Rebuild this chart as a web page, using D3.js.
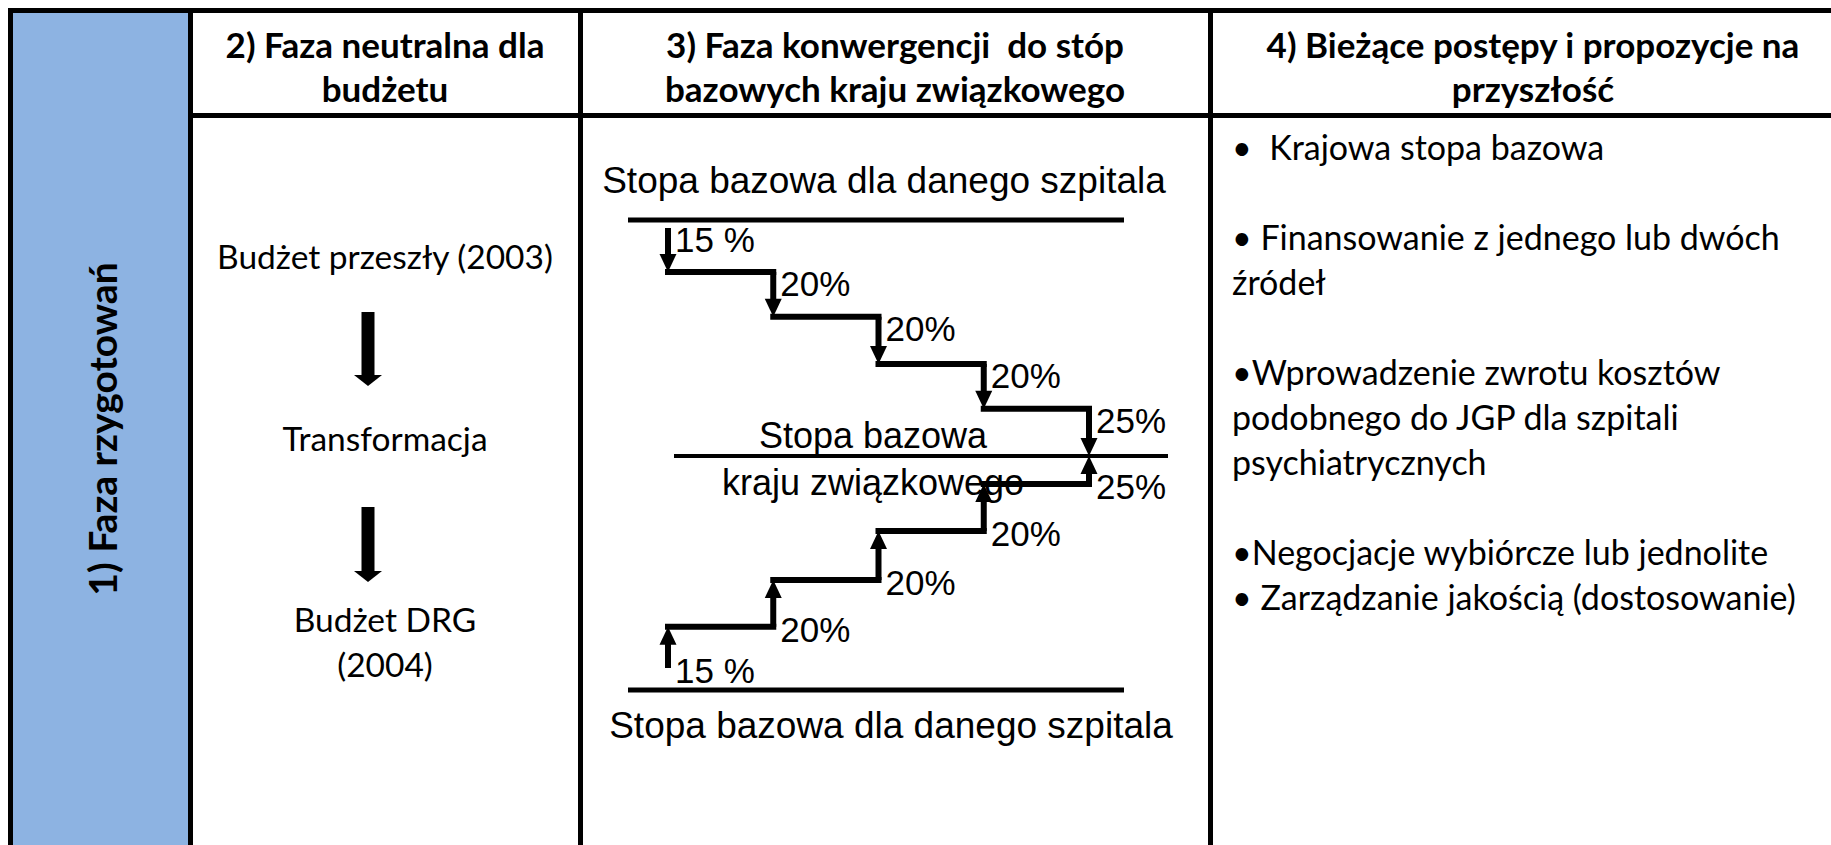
<!DOCTYPE html>
<html>
<head>
<meta charset="utf-8">
<script src="https://cdn.jsdelivr.net/npm/d3@7"></script>
<style>
  body { margin: 0; background: #fff; }
  svg { display: block; }
  text { white-space: pre; }
</style>
</head>
<body>
<svg width="1831" height="845"></svg>
<script>
// table content
var headers = [
    ["2) Faza neutralna dla", "budżetu"],
    ["3) Faza konwergencji  do stóp", "bazowych kraju związkowego"],
    ["4) Bieżące postępy i propozycje na", "przyszłość"]
];
var phaseOne = "1) Faza rzygotowań";
var budgetSteps = [["Budżet przeszły (2003)"], ["Transformacja"], ["Budżet DRG", "(2004)"]];
var hospitalRate = "Stopa bazowa dla danego szpitala";
var stateRate = ["Stopa bazowa", "kraju związkowego"];
var progressItems = [
    "•  Krajowa stopa bazowa",
    "",
    "• Finansowanie z jednego lub dwóch",
    "źródeł",
    "",
    "•Wprowadzenie zwrotu kosztów",
    "podobnego do JGP dla szpitali",
    "psychiatrycznych",
    "",
    "•Negocjacje wybiórcze lub jednolite",
    "• Zarządzanie jakością (dostosowanie)"
];

// convergence steps (share of the gap closed each year, and level reached as drawn)
var stepLabels = ["15 %", "20%", "20%", "20%", "25%"];
var downLevels = [22, 41, 61, 80, 100];
var upLevels = [27, 47, 68, 88, 100];

var svg = d3.select("svg");
var cols = [10, 190, 580, 1210, 1856];
var headerY = 115.5;
var sans = "Lato, 'Open Sans', sans-serif";
var arial = "'Liberation Sans', Arial, sans-serif";

// blue first column
svg.append("rect")
    .attr("x", cols[0]).attr("y", 10)
    .attr("width", cols[1] - cols[0]).attr("height", 845)
    .attr("fill", "#8db3e2");

var grid = svg.append("g").attr("stroke", "#000").attr("stroke-width", 5);
grid.append("line").attr("x1", 8).attr("x2", 1831).attr("y1", 10.5).attr("y2", 10.5);
grid.append("line").attr("x1", cols[1]).attr("x2", 1831).attr("y1", headerY).attr("y2", headerY);
grid.selectAll(".vline")
    .data(cols.slice(0, 4))
    .enter().append("line")
    .attr("class", "vline")
    .attr("x1", function(d) {return d + 0.5})
    .attr("x2", function(d) {return d + 0.5})
    .attr("y1", 8).attr("y2", 845);

// headers
headers.forEach(function(h, i) {
    var cx = i < 2 ? (cols[i + 1] + cols[i + 2]) / 2 : 1533;
    svg.append("text")
        .attr("x", cx).attr("y", 0)
        .attr("text-anchor", "middle")
        .style("font-family", sans).style("font-weight", 700).style("font-size", "35px")
        .selectAll("tspan")
        .data(h)
        .enter().append("tspan")
        .attr("x", cx)
        .attr("y", function(d, j) {return 58 + j * 44})
        .text(function(d) {return d});
});

// rotated phase 1 label
svg.append("text")
    .attr("transform", "translate(117,429) rotate(-90)")
    .attr("text-anchor", "middle")
    .style("font-family", sans).style("font-weight", 700).style("font-size", "39px")
    .text(phaseOne);

// column 2: budget transformation
var c2 = (cols[1] + cols[2]) / 2;
var budgetY = [269, 451, 632];
budgetSteps.forEach(function(lines, i) {
    svg.append("text")
        .attr("text-anchor", "middle")
        .style("font-family", sans).style("font-size", "33.5px")
        .selectAll("tspan")
        .data(lines)
        .enter().append("tspan")
        .attr("x", c2)
        .attr("y", function(d, j) {return budgetY[i] + j * 45})
        .text(function(d) {return d});
});

function arrow(g, x, y0, y1, shaft, headW, headL) {
    var dir = y1 > y0 ? 1 : -1;
    g.append("line")
        .attr("x1", x).attr("x2", x)
        .attr("y1", y0).attr("y2", y1 - dir * (headL - 1))
        .attr("stroke", "#000").attr("stroke-width", shaft);
    g.append("path")
        .attr("d", "M" + (x - headW / 2) + "," + (y1 - dir * headL) +
                   "L" + (x + headW / 2) + "," + (y1 - dir * headL) +
                   "L" + x + "," + y1 + "Z")
        .attr("fill", "#000");
}

var arrows2 = svg.append("g");
arrow(arrows2, 368, 312, 386, 13, 28, 11);
arrow(arrows2, 368, 507, 582, 13, 28, 11);

// column 3: convergence staircase
var sx = d3.scaleLinear().domain([0, 4]).range([668, 1089]);
var yTop = d3.scaleLinear().domain([0, 100]).range([220, 456]);
var yBot = d3.scaleLinear().domain([0, 100]).range([690, 456]);

var c3 = svg.append("g");
c3.append("text")
    .attr("x", 884).attr("y", 193)
    .attr("text-anchor", "middle")
    .style("font-family", arial).style("font-size", "37px")
    .text(hospitalRate);
c3.append("text")
    .attr("x", 891).attr("y", 738)
    .attr("text-anchor", "middle")
    .style("font-family", arial).style("font-size", "37px")
    .text(hospitalRate);
c3.selectAll(".state")
    .data(stateRate)
    .enter().append("text")
    .attr("class", "state")
    .attr("x", 873)
    .attr("y", function(d, i) {return 448 + i * 47})
    .attr("text-anchor", "middle")
    .style("font-family", arial).style("font-size", "36px")
    .text(function(d) {return d});

c3.append("line").attr("x1", 628).attr("x2", 1124).attr("y1", yTop(0)).attr("y2", yTop(0))
    .attr("stroke", "#000").attr("stroke-width", 5);
c3.append("line").attr("x1", 628).attr("x2", 1124).attr("y1", yBot(0)).attr("y2", yBot(0))
    .attr("stroke", "#000").attr("stroke-width", 5);
c3.append("line").attr("x1", 674).attr("x2", 1168).attr("y1", yTop(100)).attr("y2", yTop(100))
    .attr("stroke", "#000").attr("stroke-width", 4);

function stairs(levels, y, start, labelOffset) {
    levels.forEach(function(v, i) {
        var y0 = i == 0 ? start : y(levels[i - 1]);
        var y1 = y(v);
        if (i < levels.length - 1) {
            c3.append("line")
                .attr("x1", sx(i) - 3).attr("x2", sx(i + 1) + 3)
                .attr("y1", y1).attr("y2", y1)
                .attr("stroke", "#000").attr("stroke-width", 6);
        }
        arrow(c3, sx(i), y0, y1, 6, 17, 18);
        c3.append("text")
            .attr("x", sx(i) + 7)
            .attr("y", y0 + labelOffset)
            .style("font-family", arial).style("font-size", "35px")
            .text(stepLabels[i]);
    });
}
stairs(downLevels, yTop, yTop(0) + 8, 24);
stairs(upLevels, yBot, yBot(0) - 22, 15);

// column 4: progress and proposals
svg.append("g").selectAll("text")
    .data(progressItems)
    .enter().append("text")
    .attr("x", 1232)
    .attr("y", function(d, i) {return 160 + i * 45})
    .style("font-family", sans).style("font-size", "34px")
    .text(function(d) {return d});
</script>
</body>
</html>
